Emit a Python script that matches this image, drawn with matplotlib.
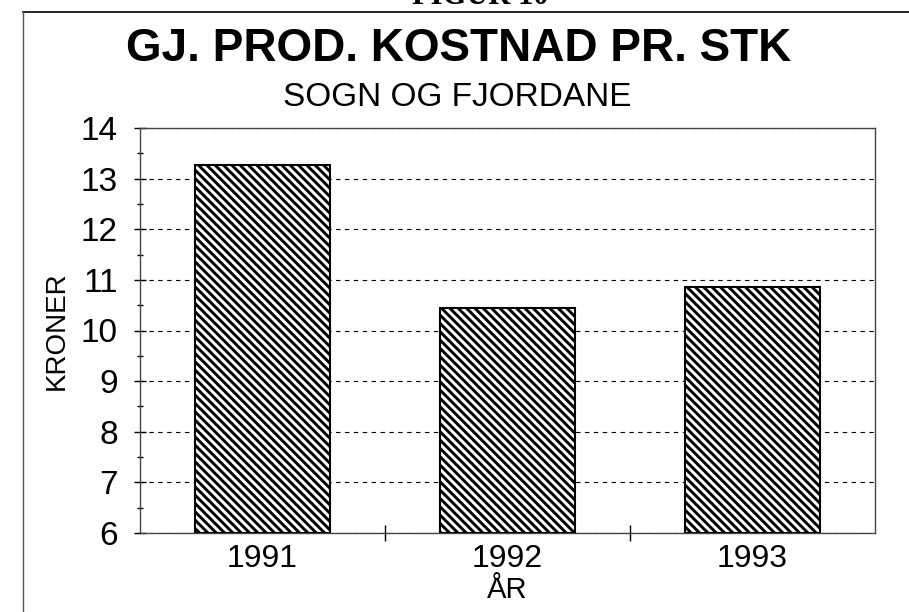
import numpy as np
import matplotlib
matplotlib.use("Agg")
import matplotlib.pyplot as plt
from matplotlib.lines import Line2D
from matplotlib.ticker import MultipleLocator

# data
years = ['1991', '1992', '1993']
kroner = [13.27, 10.44, 10.86]
y_ticks = [6, 7, 8, 9, 10, 11, 12, 13, 14]

plt.rcParams['font.family'] = ['Liberation Sans', 'DejaVu Sans']
plt.rcParams['hatch.linewidth'] = 2.1
plt.rcParams['hatch.color'] = 'black'

fig = plt.figure(figsize=(9.09, 6.12), dpi=100)
fig.patch.set_facecolor('white')

# cut-off figure caption and outer frame of the scan
fig.text(0.528, 1 - 4 / 612, 'FIGUR 10', ha='center', va='baseline',
         fontsize=22, fontweight='bold', family='Liberation Serif')
fig.add_artist(Line2D([23 / 909, 1.0], [1 - 12 / 612, 1 - 12 / 612],
                      transform=fig.transFigure, color='black', lw=1.2))
fig.add_artist(Line2D([23 / 909, 23 / 909], [0.0, 1 - 12 / 612],
                      transform=fig.transFigure, color='#555555', lw=1.0))

fig.text(0.504, 1 - 49 / 612, 'GJ. PROD. KOSTNAD PR. STK', ha='center',
         va='center', fontsize=33, fontweight='bold')
fig.text(0.503, 1 - 97 / 612, 'SOGN OG FJORDANE', ha='center',
         va='center', fontsize=24)

ax = fig.add_axes([140 / 909, 1 - 533 / 612, 735 / 909, 405 / 612])
x = np.arange(len(years))
ax.bar(x, [v - 6 for v in kroner], bottom=6, width=0.55, color='white',
       edgecolor='black', hatch='\\\\\\\\', linewidth=1.5, zorder=3)

ax.set_ylim(6, 14)
ax.set_xlim(-0.5, 2.5)
ax.set_yticks(y_ticks)
ax.yaxis.set_minor_locator(MultipleLocator(0.5))
ax.set_xticks(x)
ax.set_xticklabels(years)
ax.set_xticks([0.5, 1.5], minor=True)

ax.grid(axis='y', which='major', color='black', linestyle=(0, (4, 4)),
        linewidth=0.8, zorder=0)
ax.tick_params(axis='y', which='major', direction='inout', length=8,
               width=1, labelsize=24, pad=12)
ax.tick_params(axis='y', which='minor', direction='inout', length=5, width=1)
ax.tick_params(axis='x', which='major', length=0, labelsize=23, pad=8)
ax.tick_params(axis='x', which='minor', direction='inout', length=12, width=1)

for s in ax.spines.values():
    s.set_color('#444444')
    s.set_linewidth(1.0)

ax.set_ylabel('KRONER', fontsize=20, labelpad=8)
ax.set_xlabel('ÅR', fontsize=21, labelpad=1)

fig.savefig('out.png', dpi=100, facecolor='white')
